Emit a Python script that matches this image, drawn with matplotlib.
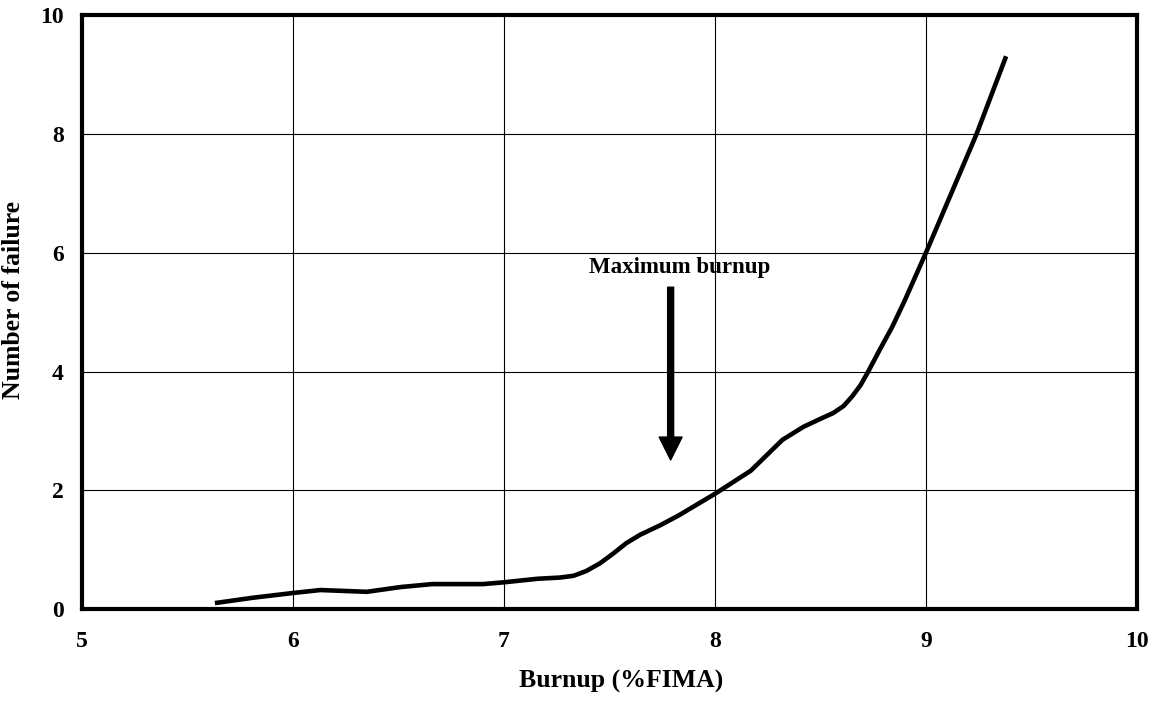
import matplotlib

matplotlib.use("Agg")
import matplotlib.pyplot as plt

# Curve
burnup = [5.63, 5.81, 6.00, 6.13, 6.35, 6.51, 6.66, 6.90, 7.00, 7.16,
          7.265, 7.33, 7.39, 7.455, 7.52, 7.58, 7.645, 7.74, 7.83, 7.91,
          8.00, 8.17, 8.32, 8.42, 8.51, 8.56, 8.61, 8.65, 8.69, 8.725,
          8.78, 8.84, 8.90, 9.00, 9.12, 9.24, 9.38]
failures = [0.10, 0.19, 0.27, 0.32, 0.29, 0.37, 0.42, 0.42, 0.45, 0.51,
            0.53, 0.56, 0.64, 0.77, 0.94, 1.11, 1.25, 1.41, 1.58, 1.75,
            1.94, 2.33, 2.85, 3.07, 3.22, 3.30, 3.42, 3.58, 3.77, 3.99,
            4.36, 4.75, 5.20, 6.00, 7.00, 8.00, 9.31]

x_ticks = [5, 6, 7, 8, 9, 10]
y_ticks = [0, 2, 4, 6, 8, 10]

max_burnup = 7.79
arrow_top, arrow_tip = 5.42, 2.51
note_text = "Maximum burnup"

plt.rcParams["font.family"] = ["Liberation Serif", "DejaVu Serif"]
plt.rcParams["font.weight"] = "bold"

fig = plt.figure(figsize=(11.58, 7.01), dpi=100)
ax = fig.add_axes([0.0708, 0.1312, 0.911, 0.847])

ax.plot(burnup, failures, color="black", lw=3.3, solid_joinstyle="round",
        solid_capstyle="butt", zorder=3)

ax.set_xlim(5, 10)
ax.set_ylim(0, 10)
ax.set_xticks(x_ticks)
ax.set_yticks(y_ticks)
ax.grid(True, color="black", lw=0.8)
ax.tick_params(length=0, labelsize=17)
ax.tick_params(axis="x", pad=16)
ax.tick_params(axis="y", pad=13)
for side in ax.spines.values():
    side.set_linewidth(3.0)

ax.set_xlabel("Burnup (%FIMA)", fontsize=18.5, fontweight="bold")
ax.set_ylabel("Number of failure", fontsize=18.5, fontweight="bold")
ax.xaxis.set_label_coords(0.511, -0.102)
ax.yaxis.set_label_coords(-0.054, 0.52)

ax.annotate("", xy=(max_burnup, arrow_tip), xytext=(max_burnup, arrow_top),
            arrowprops=dict(facecolor="black", edgecolor="black", width=4.3,
                            headwidth=16.5, headlength=16.5, shrink=0))
ax.text(7.834, 5.76, note_text, ha="center", va="center", fontsize=16.5,
        fontweight="bold")

fig.savefig("out.png", dpi=100)
